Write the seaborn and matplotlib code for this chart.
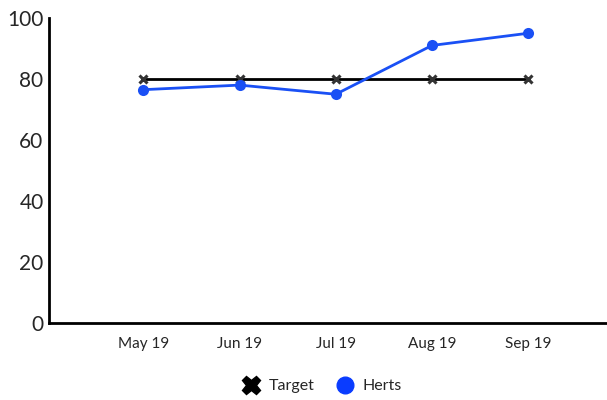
import matplotlib.pyplot as plt
import matplotlib.lines as mlines
import seaborn as sns
import pandas as pd

months = ["May 19", "Jun 19", "Jul 19", "Aug 19", "Sep 19"]
target = [80, 80, 80, 80, 80]
herts = [76.5, 78, 75, 91, 95]

df = pd.DataFrame({"month": months, "Target": target, "Herts": herts})

sns.set_style("white")
plt.rcParams["font.family"] = ["Lato", "DejaVu Sans"]

fig = plt.figure(figsize=(6.07, 4.0), dpi=100)
ax = fig.add_axes([0.081, 0.1925, 0.919, 0.7625])

sns.lineplot(data=df, x="month", y="Target", ax=ax, color="black", lw=2,
             marker="x", markersize=6, markeredgewidth=2.2,
             markeredgecolor="#333333", sort=False)
sns.lineplot(data=df, x="month", y="Herts", ax=ax, color="#1a50f5", lw=2,
             marker="o", markersize=8, markeredgewidth=0, sort=False)

ax.set_xlim(-0.98, 4.82)
ax.set_ylim(0, 100)
ax.set_yticks([0, 20, 40, 60, 80, 100])
ax.set_xlabel("")
ax.set_ylabel("")
ax.tick_params(axis="y", labelsize=15, length=0, pad=4)
ax.tick_params(axis="x", labelsize=11, length=0, pad=10)
sns.despine(ax=ax)
for s in ["left", "bottom"]:
    ax.spines[s].set_color("black")
    ax.spines[s].set_linewidth(2)

h1 = mlines.Line2D([], [], color="black", marker="X", linestyle="None",
                   markersize=13, label="Target")
h2 = mlines.Line2D([], [], color="#0a3cff", marker="o", linestyle="None",
                   markersize=12, label="Herts")
fig.legend(handles=[h1, h2], loc="center", bbox_to_anchor=(0.525, 0.035),
           ncol=2, frameon=False, fontsize=11.5, handletextpad=0.1,
           columnspacing=0.9)

fig.savefig("out.png", dpi=100)
